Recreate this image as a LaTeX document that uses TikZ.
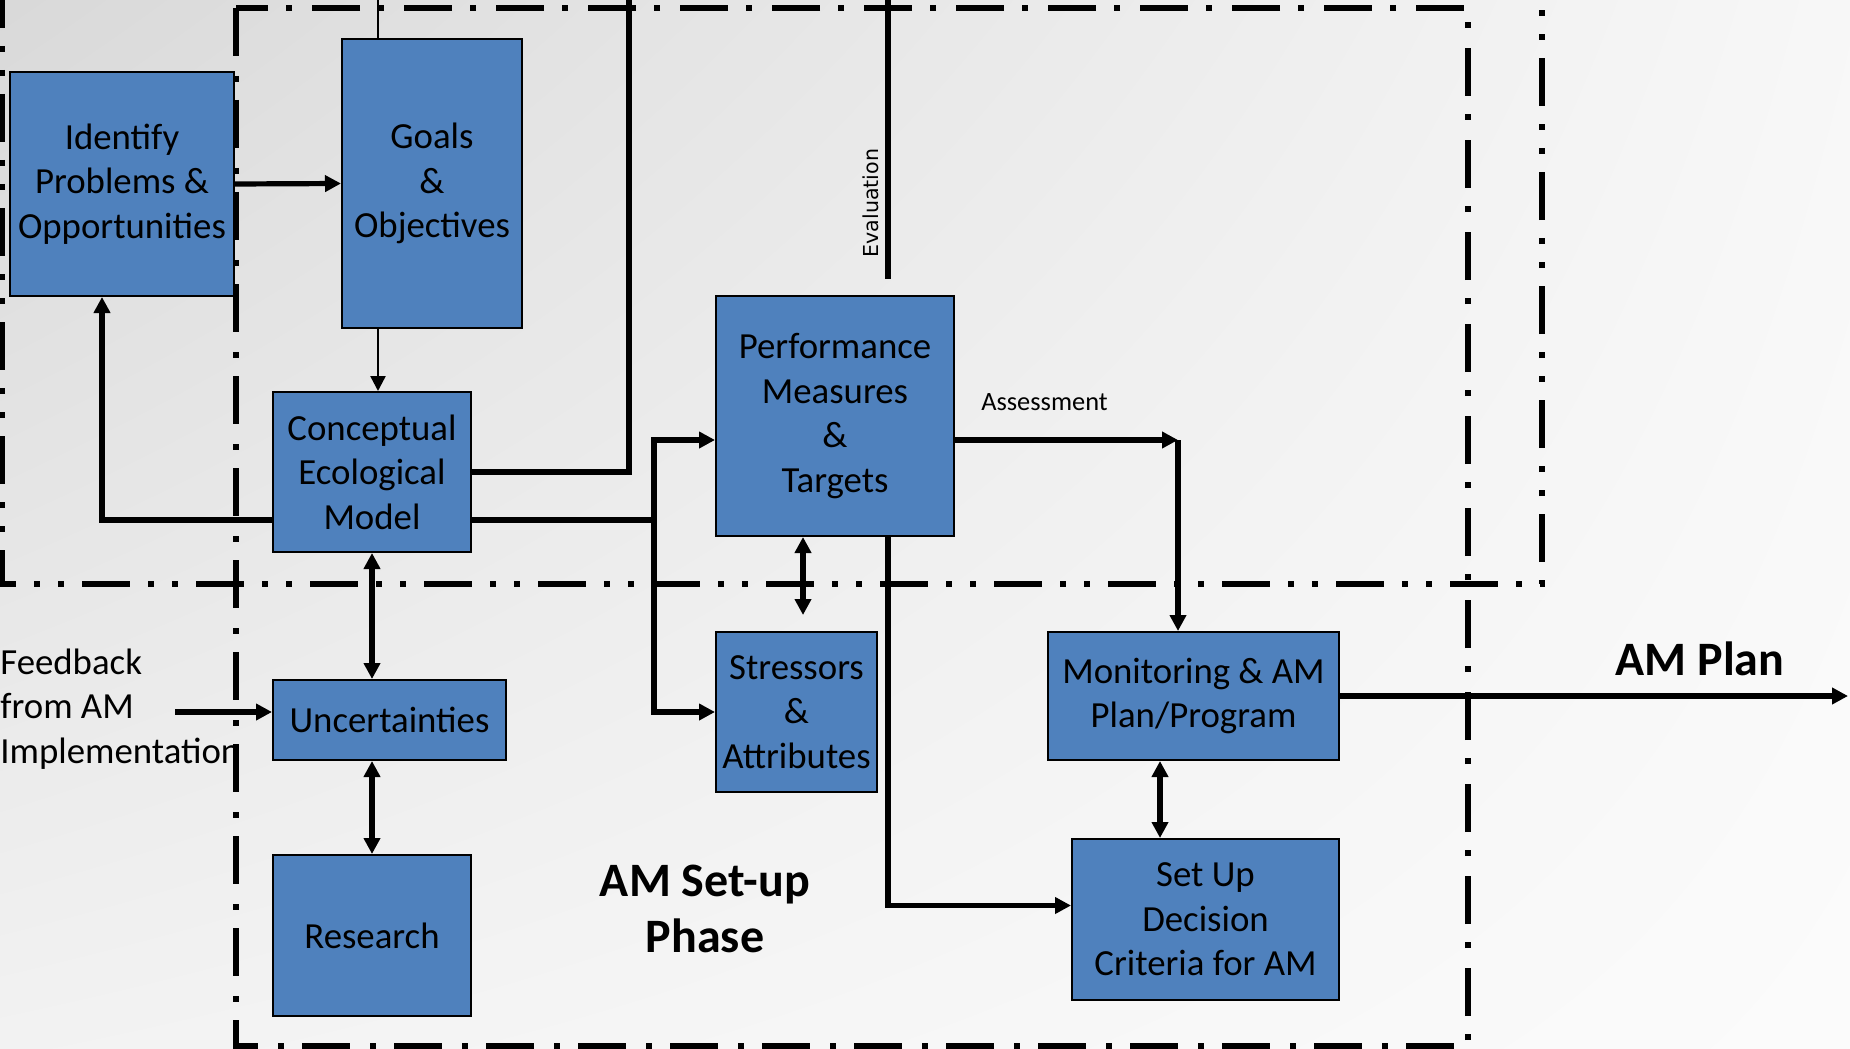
\documentclass[tikz,border=0pt]{standalone}
\usepackage{fontspec}
\setmainfont{Carlito}
\newfontfamily\evalfont{DejaVu Sans}
\usepackage{tikz}
\usetikzlibrary{calc, arrows.meta, shadings}
\definecolor{boxblue}{HTML}{4F81BD}

\begin{document}
\begin{tikzpicture}[x=0.5pt, y=-0.5pt,
                blk/.style={draw=black, line width=1pt, fill=boxblue, align=center, inner sep=0pt,
                    font=\fontsize{18.4}{22.3}\selectfont},
                link/.style={line width=2.6pt, >={Triangle[length=8pt, width=8pt]}},
                thinlink/.style={line width=1.2pt, >={Triangle[length=7.5pt, width=7.5pt]}},
                phase/.style={line width=2.6pt, dash pattern=on 24pt off 10pt on 3pt off 9pt},
                study/.style={line width=2.8pt, dash pattern=on 24pt off 9pt on 3pt off 9pt on 3pt off 9pt},
                bigtxt/.style={font=\fontsize{24}{28}\selectfont\bfseries, align=center}]
                \useasboundingbox (0,0) rectangle (1850,1048);
                \shade[upper left=gray!30, upper right=gray!6, lower left=gray!10, lower right=gray!3]
                    (0,0) rectangle (1850,1048);
                \draw[study] (2,-20) -- (2,584) -- (1542,584) -- (1542,-20);
                \draw[phase] (236,8) rectangle (1468,1046);
                \node[blk, minimum width=112pt, minimum height=112pt] (Ident) at (122,184)
                    {Identify\\Problems \&\\Opportunities};
                \node[blk, minimum width=90pt, minimum height=144.5pt] (Goals) at (432,183.5)
                    {Goals\\\&\\Objectives};
                \node[blk, minimum width=99pt, minimum height=80pt] (Model) at (372,472)
                    {Conceptual\\Ecological\\Model};
                \node[blk, minimum width=119pt, minimum height=120pt] (Perf) at (835,416)
                    {Performance\\Measures\\\&\\Targets};
                \node[blk, minimum width=116.5pt, minimum height=40pt] (Unc) at (389.5,720)
                    {Uncertainties};
                \node[blk, minimum width=99pt, minimum height=80.5pt] (Res) at (372,935.5)
                    {Research};
                \node[blk, minimum width=80.5pt, minimum height=80pt] (Stress) at (796.5,712)
                    {Stressors\\\&\\Attributes};
                \node[blk, minimum width=145.5pt, minimum height=64pt] (Mon) at (1193.5,696)
                    {Monitoring \& AM\\Plan/Program};
                \node[blk, minimum width=133.5pt, minimum height=80.5pt] (SetUp) at (1205.5,919.5)
                    {Set Up\\Decision\\Criteria for AM};
                \coordinate (Top_1) at (378,-10);
                \coordinate (Top_2) at (629,-10);
                \coordinate (Eval_top) at (888,-10);
                \coordinate (Eval_end) at (888,279);
                \coordinate (Split) at (654,520);
                \coordinate (Asm) at (1178,440);
                \coordinate (PS_end) at (803,615);
                \coordinate (FB_start) at (175,712);
                \coordinate (Plan_end) at (1848,696);
                \draw[link, ->] (Ident.east) -- (Goals.west);
                \draw[thinlink, ->] ([xshift=-27pt]Goals.south) -- ([xshift=-27pt]Goals.south |- Model.north);
                \draw[thinlink] ([xshift=-27pt]Goals.north) -- (Top_1);
                \draw[link] (Model.east) -| (Top_2);
                \draw[link, ->] ([yshift=-24pt]Model.west) -| ([xshift=-10pt]Ident.south);
                \draw[link] ([yshift=-24pt]Model.east) -- (Split);
                \draw[link, ->] (Split) |- ([yshift=-12pt]Perf.west);
                \draw[link, ->] (Split) |- (Stress.west);
                \draw[link] (Eval_top) -- (Eval_end);
                \node[rotate=90, font=\evalfont\fontsize{10.3}{12}\selectfont] (Eval) at (871,203) {Evaluation};
                \draw[link, ->] ([yshift=-12pt]Perf.east) -- (Asm);
                \draw[link, ->] (Asm) -- (Asm |- Mon.north);
                \node[font=\fontsize{13.2}{15}\selectfont] (Assess) at (1044.5,402) {Assessment};
                \draw[link, <->] ([xshift=-16pt]Perf.south) -- (PS_end);
                \draw[link, ->] ([xshift=26.5pt]Perf.south) |- ([yshift=7pt]SetUp.west);
                \draw[link, <->] (Model.south) -- (Model.south |- Unc.north);
                \draw[link, <->] (Res.north |- Unc.south) -- (Res.north);
                \draw[link, <->] ([xshift=-16.75pt]Mon.south) -- ([xshift=-16.75pt]Mon.south |- SetUp.north);
                \draw[link, ->] (Mon.east) -- (Plan_end);
                \draw[link, ->] (FB_start) -- (FB_start -| Unc.west);
                \node[anchor=west, align=left, inner sep=0pt, font=\fontsize{18.4}{22.3}\selectfont] (FB) at (0,709)
                    {Feedback\\from AM\\Implementation};
                \node[bigtxt] (Plan) at (1700,659) {AM Plan};
                \node[bigtxt] (Phase) at (705,909) {AM Set-up\\Phase};
            \end{tikzpicture}
\end{document}
